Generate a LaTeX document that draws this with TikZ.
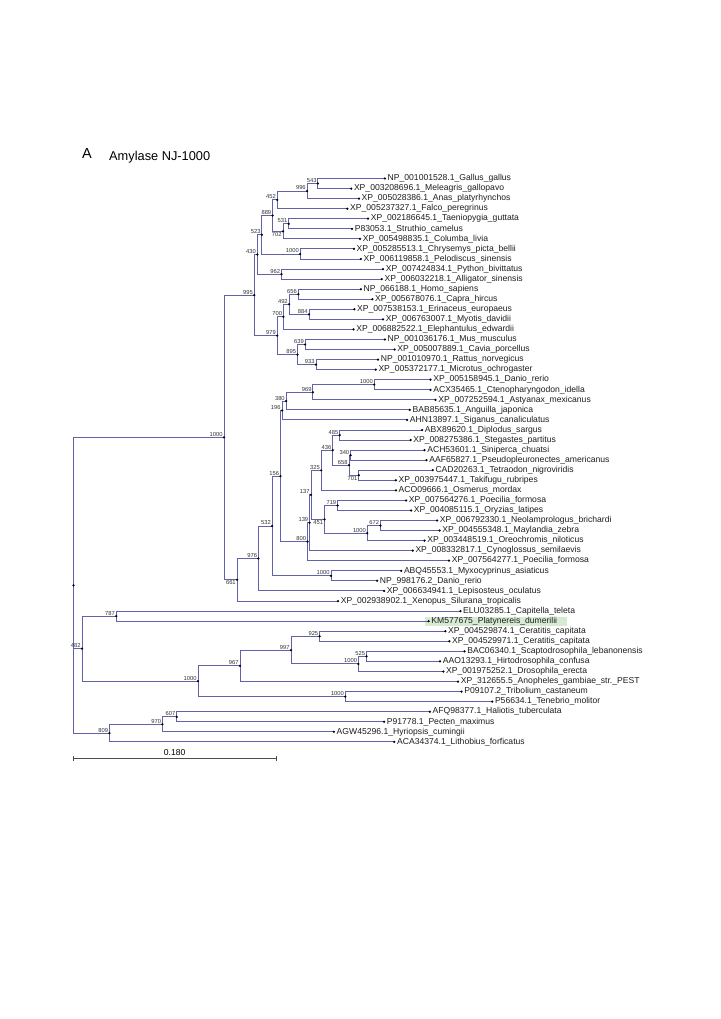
\documentclass[tikz,border=0pt]{standalone}
\usepackage{fontspec}
\setmainfont{Liberation Sans}
\newfontfamily\lff{Liberation Sans}
\newcommand\leaffont{\lff\fontsize{8.6}{9}\selectfont}
\newcommand\bsfont{\lff\fontsize{5.8}{6}\selectfont}
\definecolor{brc}{RGB}{98,98,170}
\definecolor{hl}{RGB}{214,235,210}
\definecolor{txt}{RGB}{30,30,30}
\begin{document}
\begin{tikzpicture}[x=1pt,y=-1pt,
  br/.style={draw=brc, line width=0.85pt},
  lf/.style={anchor=west, inner sep=0pt, xshift=2.6pt, font=\leaffont, text=txt},
  bsa/.style={anchor=south east, inner sep=0pt, xshift=-1.2pt, yshift=0.8pt, font=\bsfont, text=black!80},
  bsb/.style={anchor=north east, inner sep=0pt, xshift=-1.2pt, yshift=-0.8pt, font=\bsfont, text=black!80}]
\useasboundingbox (0,0) rectangle (720,1019);
\fill[white] (0,0) rectangle (720,1019);
% title
\node[anchor=base west, inner sep=0pt, font=\fontsize{14.5}{15}\selectfont] (ttlA) at (82,158.5) {A};
\node[anchor=base west, inner sep=0pt, font=\fontsize{12.8}{13}\selectfont] (ttl) at (109,161) {Amylase NJ-1000};
% highlight
\fill[hl] (425,616.6) rectangle (567,625.8);
% leaves
\coordinate (gallus) at (384.9,178.5);
\coordinate (meleagris) at (351.2,188.6);
\coordinate (anas) at (358.9,198.6);
\coordinate (falco) at (347.4,208.7);
\coordinate (taenio) at (368.0,218.7);
\coordinate (struthio) at (352.0,228.8);
\coordinate (columba) at (360.0,238.9);
\coordinate (chrysemys) at (353.9,248.9);
\coordinate (pelodiscus) at (360.8,259.0);
\coordinate (python) at (383.0,269.1);
\coordinate (alligator) at (381.8,279.1);
\coordinate (homo) at (360.8,289.2);
\coordinate (capra) at (372.3,299.2);
\coordinate (erinaceus) at (354.3,309.3);
\coordinate (myotis) at (383.0,319.3);
\coordinate (elephantulus) at (353.5,329.4);
\coordinate (mus) at (384.9,339.5);
\coordinate (cavia) at (394.5,349.5);
\coordinate (rattus) at (378.0,359.6);
\coordinate (microtus) at (375.7,369.6);
\coordinate (danioa) at (430.5,379.7);
\coordinate (cteno) at (430.5,389.8);
\coordinate (astyanax) at (435.5,399.8);
\coordinate (anguilla) at (409.8,409.9);
\coordinate (siganus) at (407.1,419.9);
\coordinate (diplodus) at (422.1,430.0);
\coordinate (stegastes) at (410.6,440.1);
\coordinate (siniperca) at (424.5,450.1);
\coordinate (pseudo) at (426.5,460.2);
\coordinate (tetraodon) at (432.7,470.2);
\coordinate (takifugu) at (395.9,480.3);
\coordinate (osmerus) at (395.9,490.4);
\coordinate (poeciliaa) at (406.1,500.4);
\coordinate (oryzias) at (411.0,510.5);
\coordinate (neolampro) at (437.1,520.5);
\coordinate (maylandia) at (439.6,530.6);
\coordinate (oreochromis) at (424.5,540.6);
\coordinate (cynoglossus) at (412.7,550.7);
\coordinate (poeciliab) at (449.0,560.7);
\coordinate (myxo) at (401.2,570.8);
\coordinate (daniob) at (377.1,580.8);
\coordinate (lepisosteus) at (384.1,590.9);
\coordinate (xenopus) at (338.0,601.0);
\coordinate (capitella) at (460.4,611.1);
\coordinate (platynereis) at (428.6,621.2);
\coordinate (ceratitisa) at (445.3,631.2);
\coordinate (ceratitisb) at (449.4,641.3);
\coordinate (scapto) at (464.5,651.3);
\coordinate (hirto) at (440.0,661.4);
\coordinate (drosophila) at (443.3,671.5);
\coordinate (anopheles) at (458.0,681.5);
\coordinate (tribolium) at (461.6,691.6);
\coordinate (tenebrio) at (492.2,701.6);
\coordinate (haliotis) at (429.8,711.7);
\coordinate (pecten) at (384.1,721.8);
\coordinate (hyriopsis) at (333.9,731.8);
\coordinate (lithobius) at (394.3,741.9);
% internal nodes
\coordinate (n543) at (317.9,183.5);
\coordinate (n996) at (307.1,191.0);
\coordinate (n452) at (277.2,199.9);
\coordinate (n531) at (288.7,223.8);
\coordinate (n702) at (283.0,231.3);
\coordinate (n889) at (272.6,215.6);
\coordinate (nT) at (300.2,254.0);
\coordinate (n523) at (261.9,234.8);
\coordinate (n962) at (281.5,274.1);
\coordinate (n430) at (257.3,254.5);
\coordinate (n656) at (298.3,294.2);
\coordinate (n884) at (309.0,314.3);
\coordinate (n492) at (289.1,304.3);
\coordinate (n700) at (283.4,316.8);
\coordinate (n639) at (305.2,344.5);
\coordinate (n933) at (316.0,364.6);
\coordinate (n895) at (297.5,354.6);
\coordinate (n979) at (277.2,335.7);
\coordinate (n995) at (254.3,295.1);
\coordinate (nD) at (374.2,384.7);
\coordinate (n969) at (312.9,392.3);
\coordinate (n380) at (286.1,401.1);
\coordinate (n196) at (282.0,410.5);
\coordinate (n485) at (339.7,435.1);
\coordinate (n340) at (350.6,455.2);
\coordinate (n701) at (358.8,475.3);
\coordinate (n658) at (349.0,465.2);
\coordinate (n436) at (332.7,450.2);
\coordinate (n325) at (321.2,470.3);
\coordinate (n719) at (337.6,505.5);
\coordinate (n672) at (380.4,525.6);
\coordinate (nC) at (367.3,533.1);
\coordinate (n451) at (324.5,519.3);
\coordinate (n137) at (311.0,494.8);
\coordinate (n139) at (309.6,522.8);
\coordinate (n800) at (307.5,541.7);
\coordinate (n156) at (280.4,476.1);
\coordinate (nM) at (331.0,575.8);
\coordinate (n532) at (272.2,526.0);
\coordinate (n976) at (258.4,558.4);
\coordinate (n661) at (237.1,579.7);
\coordinate (nV) at (224.0,437.4);
\coordinate (n787) at (116.3,616.1);
\coordinate (n925) at (319.6,636.2);
\coordinate (n525) at (366.5,656.4);
\coordinate (nDr) at (358.4,663.9);
\coordinate (n997) at (291.0,650.1);
\coordinate (n967) at (240.0,665.8);
\coordinate (nB) at (345.3,696.6);
\coordinate (nI) at (198.0,681.2);
\coordinate (n482) at (82.0,648.7);
\coordinate (n607) at (176.7,716.8);
\coordinate (n970) at (162.4,724.3);
\coordinate (n809) at (109.4,733.1);
\coordinate (root) at (73.5,585.3);
% branches
\draw[br] (n543) |- (gallus) (n543) |- (meleagris)
 (n996) |- (n543) (n996) |- (anas)
 (n452) |- (n996) (n452) |- (falco)
 (n531) |- (taenio) (n531) |- (struthio)
 (n702) |- (n531) (n702) |- (columba)
 (n889) |- (n452) (n889) |- (n702)
 (nT) |- (chrysemys) (nT) |- (pelodiscus)
 (n523) |- (n889) (n523) |- (nT)
 (n962) |- (python) (n962) |- (alligator)
 (n430) |- (n523) (n430) |- (n962)
 (n656) |- (homo) (n656) |- (capra)
 (n884) |- (erinaceus) (n884) |- (myotis)
 (n492) |- (n656) (n492) |- (n884)
 (n700) |- (n492) (n700) |- (elephantulus)
 (n639) |- (mus) (n639) |- (cavia)
 (n933) |- (rattus) (n933) |- (microtus)
 (n895) |- (n639) (n895) |- (n933)
 (n979) |- (n700) (n979) |- (n895)
 (n995) |- (n430) (n995) |- (n979);
\draw[br] (nD) |- (danioa) (nD) |- (cteno)
 (n969) |- (nD) (n969) |- (astyanax)
 (n380) |- (n969) (n380) |- (anguilla)
 (n196) |- (n380) (n196) |- (siganus)
 (n485) |- (diplodus) (n485) |- (stegastes)
 (n340) |- (siniperca) (n340) |- (pseudo)
 (n701) |- (tetraodon) (n701) |- (takifugu)
 (n658) |- (n340) (n658) |- (n701)
 (n436) |- (n485) (n436) |- (n658)
 (n325) |- (n436) (n325) |- (osmerus)
 (n719) |- (poeciliaa) (n719) |- (oryzias)
 (n672) |- (neolampro) (n672) |- (maylandia)
 (nC) |- (n672) (nC) |- (oreochromis)
 (n451) |- (n719) (n451) |- (nC)
 (n137) |- (n325) (n137) |- (n451)
 (n139) |- (n137) (n139) |- (cynoglossus)
 (n800) |- (n139) (n800) |- (poeciliab)
 (n156) |- (n196) (n156) |- (n800)
 (nM) |- (myxo) (nM) |- (daniob)
 (n532) |- (n156) (n532) |- (nM)
 (n976) |- (n532) (n976) |- (lepisosteus)
 (n661) |- (n976) (n661) |- (xenopus)
 (nV) |- (n995) (nV) |- (n661);
\draw[br] (n787) |- (capitella) (n787) |- (platynereis)
 (n925) |- (ceratitisa) (n925) |- (ceratitisb)
 (n525) |- (scapto) (n525) |- (hirto)
 (nDr) |- (n525) (nDr) |- (drosophila)
 (n997) |- (n925) (n997) |- (nDr)
 (n967) |- (n997) (n967) |- (anopheles)
 (nB) |- (tribolium) (nB) |- (tenebrio)
 (nI) |- (n967) (nI) |- (nB)
 (n482) |- (n787) (n482) |- (nI)
 (n607) |- (haliotis) (n607) |- (pecten)
 (n970) |- (n607) (n970) |- (hyriopsis)
 (n809) |- (n970) (n809) |- (lithobius)
 (root) |- (nV) (root) |- (n482) (root) |- (n809);
% dots
\foreach \p in {gallus,meleagris,anas,falco,taenio,struthio,columba,chrysemys,pelodiscus,python,alligator,homo,capra,erinaceus,myotis,elephantulus,mus,cavia,rattus,microtus,danioa,cteno,astyanax,anguilla,siganus,diplodus,stegastes,siniperca,pseudo,tetraodon,takifugu,osmerus,poeciliaa,oryzias,neolampro,maylandia,oreochromis,cynoglossus,poeciliab,myxo,daniob,lepisosteus,xenopus,capitella,platynereis,ceratitisa,ceratitisb,scapto,hirto,drosophila,anopheles,tribolium,tenebrio,haliotis,pecten,hyriopsis,lithobius,n543,n996,n452,n531,n702,n889,nT,n523,n962,n430,n656,n884,n492,n700,n639,n933,n895,n979,n995,nD,n969,n380,n196,n485,n340,n701,n658,n436,n325,n719,n672,nC,n451,n137,n139,n800,n156,nM,n532,n976,n661,nV,n787,n925,n525,nDr,n997,n967,nB,nI,n482,n607,n970,n809,root}
  \fill[black] (\p) circle (1.25pt);
% leaf labels
\node[lf] (t1) at (gallus) {NP\_001001528.1\_Gallus\_gallus};
\node[lf] (t2) at (meleagris) {XP\_003208696.1\_Meleagris\_gallopavo};
\node[lf] (t3) at (anas) {XP\_005028386.1\_Anas\_platyrhynchos};
\node[lf] (t4) at (falco) {XP\_005237327.1\_Falco\_peregrinus};
\node[lf] (t5) at (taenio) {XP\_002186645.1\_Taeniopygia\_guttata};
\node[lf] (t6) at (struthio) {P83053.1\_Struthio\_camelus};
\node[lf] (t7) at (columba) {XP\_005498835.1\_Columba\_livia};
\node[lf] (t8) at (chrysemys) {XP\_005285513.1\_Chrysemys\_picta\_bellii};
\node[lf] (t9) at (pelodiscus) {XP\_006119858.1\_Pelodiscus\_sinensis};
\node[lf] (t10) at (python) {XP\_007424834.1\_Python\_bivittatus};
\node[lf] (t11) at (alligator) {XP\_006032218.1\_Alligator\_sinensis};
\node[lf] (t12) at (homo) {NP\_066188.1\_Homo\_sapiens};
\node[lf] (t13) at (capra) {XP\_005678076.1\_Capra\_hircus};
\node[lf] (t14) at (erinaceus) {XP\_007538153.1\_Erinaceus\_europaeus};
\node[lf] (t15) at (myotis) {XP\_006763007.1\_Myotis\_davidii};
\node[lf] (t16) at (elephantulus) {XP\_006882522.1\_Elephantulus\_edwardii};
\node[lf] (t17) at (mus) {NP\_001036176.1\_Mus\_musculus};
\node[lf] (t18) at (cavia) {XP\_005007889.1\_Cavia\_porcellus};
\node[lf] (t19) at (rattus) {NP\_001010970.1\_Rattus\_norvegicus};
\node[lf] (t20) at (microtus) {XP\_005372177.1\_Microtus\_ochrogaster};
\node[lf] (t21) at (danioa) {XP\_005158945.1\_Danio\_rerio};
\node[lf] (t22) at (cteno) {ACX35465.1\_Ctenopharyngodon\_idella};
\node[lf] (t23) at (astyanax) {XP\_007252594.1\_Astyanax\_mexicanus};
\node[lf] (t24) at (anguilla) {BAB85635.1\_Anguilla\_japonica};
\node[lf] (t25) at (siganus) {AHN13897.1\_Siganus\_canaliculatus};
\node[lf] (t26) at (diplodus) {ABX89620.1\_Diplodus\_sargus};
\node[lf] (t27) at (stegastes) {XP\_008275386.1\_Stegastes\_partitus};
\node[lf] (t28) at (siniperca) {ACH53601.1\_Siniperca\_chuatsi};
\node[lf] (t29) at (pseudo) {AAF65827.1\_Pseudopleuronectes\_americanus};
\node[lf] (t30) at (tetraodon) {CAD20263.1\_Tetraodon\_nigroviridis};
\node[lf] (t31) at (takifugu) {XP\_003975447.1\_Takifugu\_rubripes};
\node[lf] (t32) at (osmerus) {ACO09666.1\_Osmerus\_mordax};
\node[lf] (t33) at (poeciliaa) {XP\_007564276.1\_Poecilia\_formosa};
\node[lf] (t34) at (oryzias) {XP\_004085115.1\_Oryzias\_latipes};
\node[lf] (t35) at (neolampro) {XP\_006792330.1\_Neolamprologus\_brichardi};
\node[lf] (t36) at (maylandia) {XP\_004555348.1\_Maylandia\_zebra};
\node[lf] (t37) at (oreochromis) {XP\_003448519.1\_Oreochromis\_niloticus};
\node[lf] (t38) at (cynoglossus) {XP\_008332817.1\_Cynoglossus\_semilaevis};
\node[lf] (t39) at (poeciliab) {XP\_007564277.1\_Poecilia\_formosa};
\node[lf] (t40) at (myxo) {ABQ45553.1\_Myxocyprinus\_asiaticus};
\node[lf] (t41) at (daniob) {NP\_998176.2\_Danio\_rerio};
\node[lf] (t42) at (lepisosteus) {XP\_006634941.1\_Lepisosteus\_oculatus};
\node[lf] (t43) at (xenopus) {XP\_002938902.1\_Xenopus\_Silurana\_tropicalis};
\node[lf] (t44) at (capitella) {ELU03285.1\_Capitella\_teleta};
\node[lf] (t45) at (platynereis) {KM577675\_Platynereis\_dumerilii};
\node[lf] (t46) at (ceratitisa) {XP\_004529874.1\_Ceratitis\_capitata};
\node[lf] (t47) at (ceratitisb) {XP\_004529971.1\_Ceratitis\_capitata};
\node[lf] (t48) at (scapto) {BAC06340.1\_Scaptodrosophila\_lebanonensis};
\node[lf] (t49) at (hirto) {AAO13293.1\_Hirtodrosophila\_confusa};
\node[lf] (t50) at (drosophila) {XP\_001975252.1\_Drosophila\_erecta};
\node[lf] (t51) at (anopheles) {XP\_312655.5\_Anopheles\_gambiae\_str.\_PEST};
\node[lf] (t52) at (tribolium) {P09107.2\_Tribolium\_castaneum};
\node[lf] (t53) at (tenebrio) {P56634.1\_Tenebrio\_molitor};
\node[lf] (t54) at (haliotis) {AFQ98377.1\_Haliotis\_tuberculata};
\node[lf] (t55) at (pecten) {P91778.1\_Pecten\_maximus};
\node[lf] (t56) at (hyriopsis) {AGW45296.1\_Hyriopsis\_cumingii};
\node[lf] (t57) at (lithobius) {ACA34374.1\_Lithobius\_forficatus};
% bootstrap values
\node[bsa] (b1) at (n543) {543};
\node[bsa] (b2) at (n996) {996};
\node[bsa] (b3) at (n452) {452};
\node[bsa] (b4) at (n531) {531};
\node[bsb] (b5) at (n702) {702};
\node[bsa] (b6) at (n889) {889};
\node[bsa] (b7) at (nT) {1000};
\node[bsa] (b8) at (n523) {523};
\node[bsa] (b9) at (n962) {962};
\node[bsa] (b10) at (n430) {430};
\node[bsa] (b11) at (n656) {656};
\node[bsa] (b12) at (n884) {884};
\node[bsa] (b13) at (n492) {492};
\node[bsa] (b14) at (n700) {700};
\node[bsa] (b15) at (n639) {639};
\node[bsa] (b16) at (n933) {933};
\node[bsa] (b17) at (n895) {895};
\node[bsa] (b18) at (n979) {979};
\node[bsa] (b19) at (n995) {995};
\node[bsa] (b20) at (nD) {1000};
\node[bsa] (b21) at (n969) {969};
\node[bsa] (b22) at (n380) {380};
\node[bsa] (b23) at (n196) {196};
\node[bsa] (b24) at (n485) {485};
\node[bsa] (b25) at (n340) {340};
\node[bsb] (b26) at (n701) {701};
\node[bsa] (b27) at (n658) {658};
\node[bsa] (b28) at (n436) {436};
\node[bsa] (b29) at (n325) {325};
\node[bsa] (b30) at (n719) {719};
\node[bsa] (b31) at (n672) {672};
\node[bsa] (b32) at (nC) {1000};
\node[bsb] (b33) at (n451) {451};
\node[bsa] (b34) at (n137) {137};
\node[bsa] (b35) at (n139) {139};
\node[bsa] (b36) at (n800) {800};
\node[bsa] (b37) at (n156) {156};
\node[bsa] (b38) at (nM) {1000};
\node[bsa] (b39) at (n532) {532};
\node[bsa] (b40) at (n976) {976};
\node[bsb] (b41) at (n661) {661};
\node[bsa] (b42) at (nV) {1000};
\node[bsa] (b43) at (n787) {787};
\node[bsa] (b44) at (n925) {925};
\node[bsa] (b45) at (n525) {525};
\node[bsa] (b46) at (nDr) {1000};
\node[bsa] (b47) at (n997) {997};
\node[bsa] (b48) at (n967) {967};
\node[bsa] (b49) at (nB) {1000};
\node[bsa] (b50) at (nI) {1000};
\node[bsa] (b51) at (n482) {482};
\node[bsa] (b52) at (n607) {607};
\node[bsa] (b53) at (n970) {970};
\node[bsa] (b54) at (n809) {809};
% scale bar
\coordinate (sbl) at (73.5,758.3);
\coordinate (sbr) at (276,758.3);
\draw[black!70, line width=0.8pt] (sbl) -- (sbr);
\draw[black!70, line width=0.8pt] ([yshift=2.5pt]sbl) -- ([yshift=-2.5pt]sbl);
\draw[black!70, line width=0.8pt] ([yshift=2.5pt]sbr) -- ([yshift=-2.5pt]sbr);
\node[anchor=base, inner sep=0pt, font=\fontsize{8.6}{9}\selectfont] (sbt) at (174.7,755.3) {0.180};
\end{tikzpicture}
\end{document}
